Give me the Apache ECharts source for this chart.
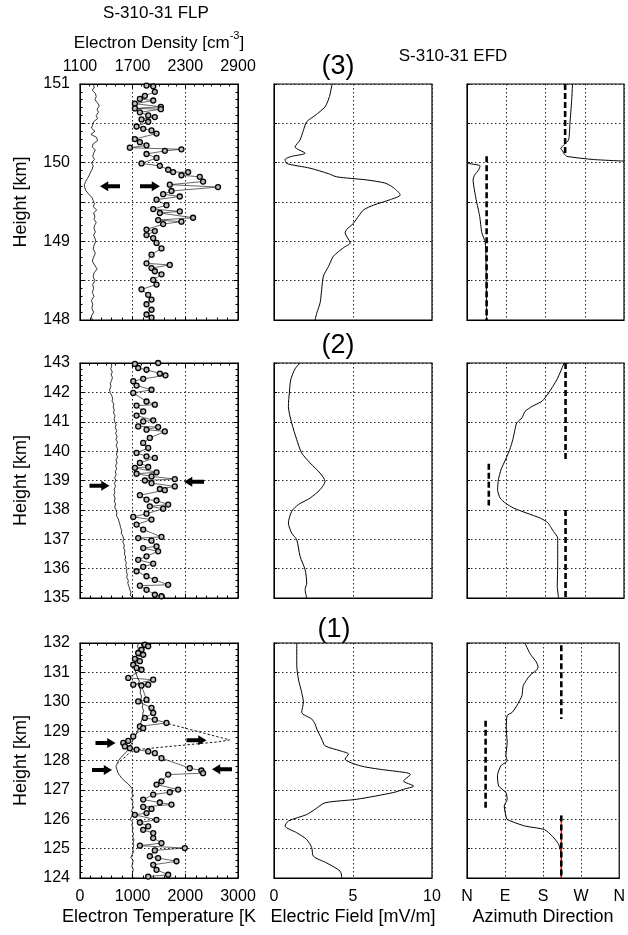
<!DOCTYPE html>
<html>
<head>
<meta charset="utf-8">
<script src="https://cdn.jsdelivr.net/npm/echarts@6/dist/echarts.min.js"></script>
<style>
  html, body { margin: 0; padding: 0; background: #fff; }
  #chart { width: 628px; height: 935px; }
</style>
</head>
<body>
<div id="chart"></div>
<script>
// ---- panel (3): 148-151 km ----
// electron density [cm^-3], height [km]
var ne3 = [[1250,151.00],[1262,150.96],[1240,150.92],[1275,150.88],[1285,150.84],[1270,150.80],[1300,150.76],[1320,150.72],
  [1295,150.68],[1310,150.64],[1285,150.60],[1300,150.56],[1255,150.52],[1245,150.48],[1230,150.44],[1270,150.40],
  [1225,150.36],[1290,150.32],[1300,150.28],[1250,150.24],[1240,150.20],[1275,150.16],[1255,150.12],[1245,150.08],
  [1265,150.04],[1230,150.00],[1250,149.96],[1240,149.92],[1220,149.88],[1205,149.84],[1185,149.80],[1165,149.76],
  [1150,149.72],[1155,149.68],[1170,149.64],[1200,149.60],[1235,149.56],[1250,149.52],[1265,149.48],[1250,149.44],
  [1290,149.40],[1255,149.36],[1270,149.32],[1260,149.28],[1285,149.24],[1265,149.20],[1260,149.16],[1275,149.12],
  [1255,149.08],[1270,149.04],[1280,149.00],[1260,148.95],[1250,148.90],[1275,148.85],[1255,148.80],[1240,148.75],
  [1265,148.70],[1295,148.65],[1260,148.60],[1250,148.55],[1270,148.50],[1245,148.45],[1255,148.40],[1240,148.35],
  [1260,148.30],[1230,148.25],[1245,148.20],[1235,148.15],[1255,148.10],[1230,148.05],[1240,148.00]];
// electron temperature [K], height [km]
var te3 = [[1263,150.98],[1390,150.97],[1421,150.90],[1232,150.85],[1137,150.81],[1390,150.79],[1042,150.75],[1535,150.71],
  [1042,150.69],[1535,150.68],[1137,150.64],[1295,150.60],[1421,150.58],[1168,150.55],[1295,150.52],[1074,150.46],
  [1200,150.43],[1358,150.41],[1453,150.37],[1042,150.30],[1137,150.26],[1263,150.22],[947,150.19],[1926,150.17],
  [1611,150.15],[1263,150.11],[1453,150.06],[1168,149.99],[1516,149.96],[1674,149.91],[1768,149.88],[2053,149.88],
  [1926,149.84],[2274,149.82],[2337,149.76],[1705,149.72],[2621,149.69],[1737,149.64],[1579,149.60],[1895,149.57],
  [1453,149.53],[1642,149.46],[1390,149.41],[1895,149.38],[1516,149.36],[2147,149.30],[1484,149.27],[1926,149.25],
  [1579,149.22],[1263,149.15],[1421,149.13],[1263,149.08],[1390,149.04],[1453,148.98],[1547,148.91],[1358,148.83],
  [1263,148.72],[1705,148.70],[1358,148.66],[1421,148.62],[1547,148.58],[1390,148.51],[1453,148.45],[1168,148.39],
  [1295,148.32],[1358,148.26],[1263,148.20],[1358,148.13],[1263,148.07],[1358,148.03]];
var arrowsR3 = [[1329,149.70]];
var arrowsL3 = [[570,149.70]];
// electric field [mV/m], height [km]
var ef3 = [[3.70,151.00],[3.66,150.98],[3.51,150.84],[3.23,150.71],[2.60,150.60],[2.07,150.52],[1.86,150.41],[1.65,150.29],
  [1.33,150.20],[1.97,150.12],[1.12,150.08],[0.70,150.04],[0.80,149.99],[2.28,149.93],[3.45,149.86],[3.97,149.82],
  [5.88,149.78],[7.04,149.74],[7.57,149.68],[7.99,149.59],[7.36,149.53],[6.30,149.46],[5.67,149.40],[5.35,149.32],
  [5.03,149.23],[4.60,149.15],[4.50,149.11],[4.82,148.98],[4.40,148.92],[3.76,148.81],[3.45,148.68],[3.13,148.56],
  [3.02,148.39],[2.92,148.22],[2.71,148.09],[2.60,148.00]];
// azimuth [deg], height [km]
var az3a = [[242,151.00],[240,150.79],[236,150.50],[233,150.29],[221,150.22],[215,150.18],[219,150.15],[223,150.11],
  [229,150.08],[290,150.04],[360,150.02]];
var az3b = [[1.5,149.99],[30,149.96],[27,149.91],[17,149.84],[14,149.78],[21,149.53],[29,149.32],[34,149.11],
  [42,148.98],[44,148.60],[45,148.00]];
var azDash3 = [[[225,151.00],[225,150.09]], [[45,150.08],[45,148.00]]];

// ---- panel (2): 135-143 km ----
var ne2 = [[1455,143.0],[1462,142.9],[1450,142.8],[1468,142.7],[1455,142.6],[1470,142.5],[1458,142.4],[1445,142.3],
  [1452,142.2],[1438,142.1],[1442,142.0],[1460,141.9],[1472,141.8],[1465,141.7],[1485,141.6],[1478,141.5],
  [1490,141.4],[1482,141.3],[1500,141.2],[1488,141.1],[1495,141.0],[1512,140.9],[1500,140.8],[1518,140.7],
  [1505,140.6],[1522,140.5],[1510,140.4],[1528,140.3],[1512,140.2],[1525,140.1],[1530,140.0],[1515,139.9],
  [1528,139.8],[1510,139.7],[1522,139.6],[1505,139.5],[1518,139.4],[1502,139.3],[1512,139.2],[1495,139.1],
  [1508,139.0],[1492,138.9],[1505,138.8],[1488,138.7],[1498,138.6],[1485,138.5],[1500,138.4],[1490,138.3],
  [1505,138.2],[1495,138.1],[1510,138.0],[1520,137.9],[1515,137.8],[1535,137.7],[1545,137.6],[1555,137.5],
  [1562,137.4],[1575,137.3],[1570,137.2],[1590,137.1],[1595,137.0],[1588,136.9],[1605,136.8],[1598,136.7],
  [1612,136.6],[1605,136.5],[1620,136.4],[1612,136.3],[1628,136.2],[1620,136.1],[1635,136.0],[1628,135.9],
  [1640,135.8],[1632,135.7],[1650,135.6],[1645,135.5],[1658,135.4],[1665,135.3],[1680,135.2],[1672,135.1],
  [1700,135.0]];
var te2 = [[1484,143.00],[1042,142.97],[1105,142.83],[1263,142.77],[1516,142.64],[1623,142.58],[1200,142.46],[1011,142.38],
  [1074,142.23],[1358,142.09],[1011,141.98],[1263,141.69],[1421,141.58],[1074,141.55],[1200,141.35],[1074,141.21],
  [1390,141.05],[1200,141.01],[1105,140.84],[1484,140.82],[1263,140.73],[1610,140.67],[1326,140.45],[1200,140.28],
  [1295,140.11],[1074,139.94],[1263,139.82],[1421,139.77],[1137,139.60],[1295,139.46],[1042,139.43],[1453,139.28],
  [1074,139.23],[1358,139.14],[1800,139.05],[1232,139.00],[1358,138.91],[1800,138.80],[1516,138.71],[1610,138.67],
  [1137,138.50],[1263,138.35],[1453,138.32],[1674,138.18],[1326,138.12],[1579,138.04],[1263,137.87],[1011,137.76],
  [1358,137.67],[1074,137.50],[1200,137.33],[1547,137.08],[1105,137.04],[1358,136.95],[1453,136.76],[1200,136.70],
  [1484,136.59],[1263,136.42],[1105,136.30],[1390,136.17],[1200,136.06],[1074,135.91],[1263,135.74],[1421,135.62],
  [1674,135.45],[1137,135.42],[1263,135.28],[1421,135.11],[1547,135.06]];
var arrowsR2 = [[370,138.82]];
var arrowsL2 = [[2165,138.96]];
var ef2 = [[1.65,143.00],[1.33,142.80],[1.06,142.43],[0.97,141.98],[0.91,141.52],[1.12,140.96],[1.44,140.39],[1.75,139.94],
  [2.28,139.60],[2.92,139.25],[3.23,138.97],[2.92,138.69],[2.28,138.40],[1.54,138.18],[1.12,137.95],[0.91,137.55],
  [1.12,137.21],[1.44,136.98],[1.65,136.42],[1.97,135.96],[2.07,135.51],[1.97,135.28],[2.07,135.00]];
var az2 = [[222.7,143.00],[206,142.43],[187,141.98],[172,141.70],[149,141.52],[133,141.35],[126,141.13],[114,140.96],
  [110,140.73],[105,140.39],[98,140.05],[88,139.70],[78,139.37],[72,139.03],[70,138.69],[76,138.40],[88,138.23],
  [107,138.06],[137,137.89],[168,137.72],[185,137.57],[191,137.44],[198,137.27],[208,137.04],[208,136.19],
  [207,135.40],[210,135.00]];
var azDash2 = [[[226,143.00],[226,139.70]], [[50,139.57],[50,138.15]], [[226,138.00],[226,135.00]]];

// ---- panel (1): 124-132 km ----
var ne1 = [[1770,132.0],[1755,131.9],[1765,131.8],[1745,131.7],[1750,131.6],[1735,131.5],[1745,131.4],[1730,131.3],
  [1740,131.2],[1725,131.1],[1735,131.0],[1745,130.9],[1760,130.8],[1775,130.7],[1765,130.6],[1780,130.5],
  [1790,130.4],[1785,130.3],[1800,130.2],[1795,130.1],[1805,130.0],[1815,129.9],[1810,129.8],[1825,129.7],
  [1815,129.6],[1820,129.5],[1805,129.4],[1795,129.3],[1780,129.2],[1770,129.1],[1755,129.0],[1740,128.9],
  [1725,128.8],[1705,128.7],[1690,128.6],[1670,128.5],[1655,128.4],[1630,128.3],[1600,128.2],[1565,128.1],
  [1540,128.0],[1525,127.9],[1510,127.8],[1520,127.7],[1530,127.6],[1550,127.5],[1575,127.4],[1610,127.3],
  [1650,127.2],[1680,127.1],[1700,127.0],[1690,126.9],[1710,126.8],[1680,126.7],[1705,126.6],[1695,126.5],
  [1710,126.4],[1685,126.3],[1700,126.2],[1690,126.1],[1670,126.0],[1700,125.9],[1690,125.8],[1705,125.7],
  [1695,125.6],[1710,125.5],[1700,125.4],[1715,125.3],[1705,125.2],[1712,125.1],[1700,125.0],[1710,124.9],
  [1695,124.8],[1680,124.7],[1705,124.6],[1700,124.5],[1690,124.4],[1708,124.3],[1700,124.2],[1695,124.1],
  [1705,124.0]];
var te1 = [[1232,131.94],[1295,131.89],[1168,131.77],[1105,131.66],[1200,131.60],[1042,131.46],[1137,131.38],[1011,131.26],
  [1074,131.15],[1168,131.09],[916,130.81],[1390,130.75],[1011,130.58],[1295,130.58],[1168,130.55],[1263,130.07],
  [1105,130.01],[1358,129.79],[1390,129.62],[1232,129.45],[1421,129.39],[1642,129.28],[1137,129.16],[1200,129.10],
  [1011,128.82],[916,128.67],[821,128.60],[853,128.48],[947,128.42],[1074,128.37],[1295,128.31],[1421,128.25],
  [1547,128.08],[2084,127.74],[2305,127.66],[2337,127.57],[1674,127.52],[1547,127.29],[1453,127.18],[1863,127.01],
  [1705,126.92],[1390,126.84],[1200,126.67],[1516,126.57],[1737,126.50],[1200,126.42],[1358,126.35],[1263,126.21],
  [1042,126.15],[1453,125.98],[1137,125.89],[1295,125.76],[1200,125.64],[1390,125.53],[1390,125.36],[1547,125.19],
  [1137,125.10],[1989,125.02],[1421,124.94],[1326,124.74],[1484,124.68],[1832,124.57],[1390,124.45],[1453,124.28],
  [1674,124.11],[1295,124.05]];
var tePeak1 = [[1595,129.29],[2842,128.70],[2600,128.63],[1000,128.36],[720,127.90]];
var arrowsR1 = [[484,128.60],[2212,128.69],[418,127.68]];
var arrowsL1 = [[2696,127.70]];
var ef1 = [[1.44,132.00],[1.44,131.24],[1.54,130.78],[1.75,130.32],[1.86,129.98],[1.75,129.64],[2.39,129.41],[2.60,129.24],
  [2.71,129.07],[3.02,128.73],[3.23,128.50],[4.19,128.33],[4.71,128.22],[4.50,128.05],[5.45,127.82],[6.72,127.70],
  [8.31,127.59],[8.63,127.53],[8.20,127.30],[8.84,127.13],[8.20,127.02],[7.57,126.91],[5.24,126.68],[3.23,126.56],
  [2.60,126.34],[2.07,126.16],[0.91,125.94],[0.70,125.77],[1.44,125.54],[2.07,125.31],[2.39,125.03],[2.49,124.74],
  [3.34,124.51],[4.19,124.23],[4.29,124.00]];
var az1 = [[137,132.00],[149,131.64],[164,131.35],[168,131.18],[164,131.07],[149,130.90],[133,130.55],[130,130.21],
  [118,129.87],[107,129.64],[95,129.53],[93,129.07],[95,128.62],[92,128.16],[95,127.99],[80,127.82],[72,127.48],
  [75,127.13],[92,126.91],[95,126.68],[88,126.45],[92,126.11],[95,125.99],[137,125.77],[183,125.65],[202,125.42],
  [217,125.14],[223,124.74],[223,124.00]];
var azDash1 = [[[223,131.92],[223,129.41]], [[44,129.35],[44,126.34]], [[223,126.13],[223,124.00]]];
var azRed1 = [[223,126.13],[223,124.00]];

var heightTicks = [[148, 151, 0.5], [135, 143, 1], [124, 132, 1]];
var dirLabels = ['N', 'E', 'S', 'W', 'N'];

var FONT = "'Liberation Sans', Arial, Helvetica, sans-serif";
var rows = [
  { top: 84, height: 236, ne: ne3, te: te3, ef: ef3, az: [az3a, az3b], dash: azDash3, ar: arrowsR3, al: arrowsL3 },
  { top: 363, height: 235, ne: ne2, te: te2, ef: ef2, az: [az2], dash: azDash2, ar: arrowsR2, al: arrowsL2 },
  { top: 643, height: 235, ne: ne1, te: te1, ef: ef1, az: [az1], dash: azDash1, ar: arrowsR1, al: arrowsL1 }
];
var cols = [{ left: 80, width: 158 }, { left: 274, width: 158 }, { left: 467, width: 157 }];

var black = '#000';
var labelStyle = { color: black, fontSize: 16, fontFamily: FONT };
var nameStyle = { color: black, fontSize: 18, fontFamily: FONT };
var dotted = { show: true, lineStyle: { type: [1.5, 2.5], color: '#222', width: 1 } };
var ARROW = 'path://M0,3L10,3L10,0L17,5L10,10L10,7L0,7Z';
function plain(v) { return String(v); }

var grid = [], xAxis = [], yAxis = [], series = [];

rows.forEach(function (row, r) {
  var hy = heightTicks[r];
  var ax = [];
  cols.forEach(function (col, c) {
    var g = grid.length;
    grid.push({ left: col.left, top: row.top, width: col.width, height: row.height,
      show: true, borderColor: black, borderWidth: 1.2 });
    var a = { y: yAxis.length, x: xAxis.length };
    var last = r === 2;
    if (c === 0) {
      xAxis.push({ gridIndex: g, type: 'value', min: 0, max: 3000, interval: 1000, position: 'bottom',
        axisLine: { show: true, lineStyle: { color: black } },
        axisTick: { show: true, inside: true, length: 4, lineStyle: { color: black } },
        minorTick: { show: true, splitNumber: 5, length: 2.5, lineStyle: { color: black } },
        axisLabel: Object.assign({ show: last, margin: 11, formatter: plain }, labelStyle),
        splitLine: dotted,
        name: last ? 'Electron Temperature [K' : '', nameLocation: 'middle', nameGap: 30, nameTextStyle: nameStyle });
      a.x2 = xAxis.length;
      xAxis.push({ gridIndex: g, type: 'value', min: 1100, max: 2900, interval: 600, position: 'top',
        axisLine: { show: true, lineStyle: { color: black } },
        axisTick: { show: true, inside: true, length: 4, lineStyle: { color: black } },
        minorTick: { show: true, splitNumber: 6, length: 2.5, lineStyle: { color: black } },
        axisLabel: Object.assign({ show: r === 0, margin: 9, formatter: plain }, labelStyle),
        splitLine: { show: false } });
    } else {
      var isDir = c === 2;
      xAxis.push({ gridIndex: g, type: 'value', min: 0, max: isDir ? 360 : 10, interval: isDir ? 90 : 5,
        position: 'bottom',
        axisLine: { show: true, lineStyle: { color: black } },
        axisTick: { show: false },
        axisLabel: Object.assign({ show: last, margin: 11,
          formatter: isDir ? function (v) { return dirLabels[Math.round(v / 90)]; } : plain }, labelStyle),
        splitLine: dotted,
        name: last ? (isDir ? 'Azimuth Direction' : 'Electric Field [mV/m]') : '',
        nameLocation: 'middle', nameGap: 30, nameTextStyle: nameStyle });
    }
    yAxis.push({ gridIndex: g, type: 'value', min: hy[0], max: hy[1], interval: hy[2],
      axisLine: { show: true, lineStyle: { color: black } },
      axisTick: { show: true, inside: true, length: c === 0 ? 4 : 3, lineStyle: { color: black } },
      minorTick: { show: c === 0, splitNumber: 5, length: 2.5, lineStyle: { color: black } },
      axisLabel: Object.assign({ show: c === 0, margin: 10,
        formatter: function (v) { return Math.abs(v - Math.round(v)) < 1e-6 ? String(Math.round(v)) : ''; } }, labelStyle),
      splitLine: dotted,
      name: c === 0 ? 'Height [km]' : '', nameLocation: 'middle', nameGap: 50, nameTextStyle: nameStyle });
    if (c === 0) {
      yAxis.push({ gridIndex: g, type: 'value', min: hy[0], max: hy[1], interval: hy[2], position: 'right',
        axisLine: { show: true, lineStyle: { color: black } },
        axisTick: { show: true, inside: true, length: 4, lineStyle: { color: black } },
        minorTick: { show: true, splitNumber: 5, length: 2.5, lineStyle: { color: black } },
        axisLabel: { show: false }, splitLine: { show: false } });
    }
    ax.push(a);
  });

  // left column: density trace + temperature circles
  series.push({ type: 'line', xAxisIndex: ax[0].x2, yAxisIndex: ax[0].y, data: row.ne,
    symbol: 'none', lineStyle: { color: black, width: 0.8 }, z: 2 });
  if (r === 2) {
    series.push({ type: 'line', xAxisIndex: ax[0].x, yAxisIndex: ax[0].y, data: tePeak1,
      symbol: 'none', lineStyle: { color: black, width: 0.9, type: [2.5, 2] }, z: 3 });
  }
  var marks = row.ar.map(function (p) { return { coord: p, symbolRotate: 0 }; })
    .concat(row.al.map(function (p) { return { coord: p, symbolRotate: 180 }; }));
  series.push({ type: 'line', xAxisIndex: ax[0].x, yAxisIndex: ax[0].y, data: row.te,
    symbol: 'circle', symbolSize: 5, showAllSymbol: true,
    itemStyle: { color: '#bbb', borderColor: black, borderWidth: 1.3 },
    lineStyle: { color: black, width: 0.6 }, z: 4,
    markPoint: { symbol: ARROW, symbolSize: [20, 10], symbolKeepAspect: false,
      itemStyle: { color: black }, label: { show: false }, data: marks } });

  // middle column: electric field
  series.push({ type: 'line', xAxisIndex: ax[1].x, yAxisIndex: ax[1].y, data: row.ef,
    symbol: 'none', smooth: 0.25, lineStyle: { color: black, width: 1 } });

  // right column: azimuth direction
  row.az.forEach(function (seg) {
    series.push({ type: 'line', xAxisIndex: ax[2].x, yAxisIndex: ax[2].y, data: seg,
      symbol: 'none', smooth: 0.2, lineStyle: { color: black, width: 1 } });
  });
  if (r === 2) {
    series.push({ type: 'line', xAxisIndex: ax[2].x, yAxisIndex: ax[2].y, data: azRed1,
      symbol: 'none', lineStyle: { color: '#e00', width: 1.2 }, z: 3 });
  }
  row.dash.forEach(function (seg) {
    series.push({ type: 'line', xAxisIndex: ax[2].x, yAxisIndex: ax[2].y, data: seg,
      symbol: 'none', lineStyle: { color: black, width: 2.6, type: [6, 3] }, z: 4 });
  });
});

function txt(x, y, text, size, rich) {
  return { type: 'text', x: x, y: y, style: { text: text, fill: black, fontSize: size, fontFamily: FONT,
    align: 'center', verticalAlign: 'middle', rich: rich } };
}

var chart = echarts.init(document.getElementById('chart'), null, { renderer: 'canvas' });
chart.setOption({
  animation: false,
  backgroundColor: '#fff',
  grid: grid,
  xAxis: xAxis,
  yAxis: yAxis,
  series: series,
  graphic: [
    txt(156, 13, 'S-310-31 FLP', 17),
    txt(159, 41, '{a|Electron Density [cm}{s|-3}{a|]}', 17, {
      a: { fontSize: 17, fontFamily: FONT, fill: black, lineHeight: 22, verticalAlign: 'bottom' },
      s: { fontSize: 11, fontFamily: FONT, fill: black, lineHeight: 22, verticalAlign: 'top' }
    }),
    txt(453, 56, 'S-310-31 EFD', 17),
    txt(338, 67, '(3)', 27),
    txt(338, 346, '(2)', 27),
    txt(334, 630, '(1)', 27)
  ]
});
</script>
</body>
</html>
